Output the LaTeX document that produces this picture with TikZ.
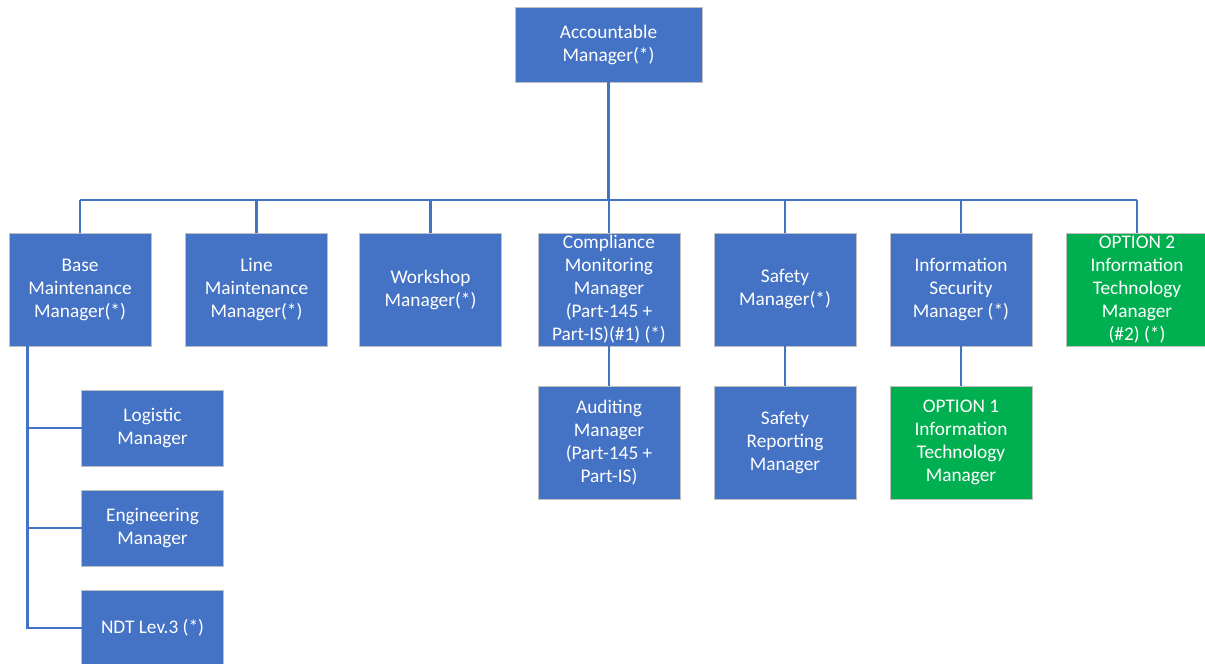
\documentclass[tikz,border=0pt]{standalone}
\usepackage{fontspec}
\setmainfont{Carlito}
\usetikzlibrary{positioning}

\definecolor{orgblue}{RGB}{68,114,196}
\definecolor{orggreen}{RGB}{0,176,80}
\definecolor{orgedge}{RGB}{191,191,191}

\tikzset{
  box/.style={rectangle, fill=orgblue, draw=orgedge, line width=0.8pt,
    text=white, align=center, inner sep=0pt, outer sep=0pt,
    minimum width=142pt, minimum height=113pt,
    font=\fontsize{19.3}{23}\selectfont},
  greenbox/.style={box, fill=orggreen},
  smallbox/.style={box, minimum height=76pt},
  conn/.style={draw=orgblue, line width=2.2pt}
}

\begin{document}
\begin{tikzpicture}[x=1pt, y=-1pt]
  \useasboundingbox (0,0) rectangle (1205,664);
  \clip (0,0) rectangle (1205,664);
  % top
  \node[box, minimum width=187pt, minimum height=75pt] (acc) at (608.5,44.5) {Accountable\\Manager(*)};
  % second level
  \node[box] (base) at (80,289.5) {Base\\Maintenance\\Manager(*)};
  \node[box] (line) at (256.5,289.5) {Line\\Maintenance\\Manager(*)};
  \node[box] (work) at (430.5,289.5) {Workshop\\Manager(*)};
  \node[box] (comp) at (609,289.5) {Compliance\\Monitoring\\Manager\\(Part-145 +\\Part-IS)(\#1) (*)};
  \node[box] (safe) at (785,289.5) {Safety\\Manager(*)};
  \node[box] (isec) at (961,289.5) {Information\\Security\\Manager (*)};
  \node[greenbox] (opt2) at (1137,289.5) {OPTION 2\\Information\\Technology\\Manager\\(\#2) (*)};
  % third level
  \node[box] (audit) at (609,442.5) {Auditing\\Manager\\(Part-145 +\\Part-IS)};
  \node[box] (srep) at (785,442.5) {Safety\\Reporting\\Manager};
  \node[greenbox] (opt1) at (961,442.5) {OPTION 1\\Information\\Technology\\Manager};
  % under base maintenance
  \node[smallbox] (logi) at (152.5,428) {Logistic\\Manager};
  \node[smallbox] (engi) at (152.5,528) {Engineering\\Manager};
  \node[smallbox] (ndt) at (152.5,628) {NDT Lev.3 (*)};

  % connectors
  \coordinate (bus) at (608.5,200);
  \coordinate (trunk) at (27.5,346);
  \draw[conn] (acc.south) -- (acc.south |- bus);
  \draw[conn] (base.north |- bus) -- (opt2.north |- bus);
  \foreach \n in {base,line,work,comp,safe,isec,opt2}
    \draw[conn] (\n.north |- bus) -- (\n.north);
  \draw[conn] (comp.south) -- (audit.north);
  \draw[conn] (safe.south) -- (srep.north);
  \draw[conn] (isec.south) -- (opt1.north);
  \draw[conn] (trunk) -- (trunk |- ndt.west) -- (ndt.west);
  \foreach \n in {logi,engi}
    \draw[conn] (trunk |- \n.west) -- (\n.west);
\end{tikzpicture}
\end{document}
